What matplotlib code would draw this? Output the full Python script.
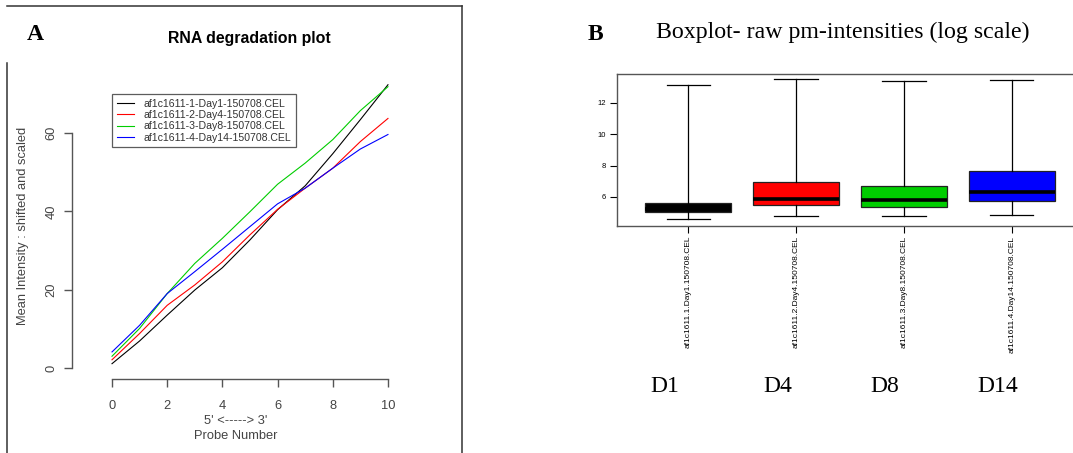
import matplotlib
matplotlib.use("Agg")
from matplotlib import pyplot as plt
from matplotlib.lines import Line2D
import numpy as np

# RNA degradation curves (panel A)
probe_number = np.arange(0, 11)
deg_labels = [
    "af1c1611-1-Day1-150708.CEL",
    "af1c1611-2-Day4-150708.CEL",
    "af1c1611-3-Day8-150708.CEL",
    "af1c1611-4-Day14-150708.CEL",
]
deg_day1 = [1.1, 6.9, 13.5, 19.9, 25.6, 32.7, 40.4, 46.5, 54.7, 63.4, 72.3]
deg_day4 = [2.1, 8.8, 16.0, 21.2, 27.1, 34.0, 40.5, 45.9, 51.0, 57.8, 63.7]
deg_day8 = [3.0, 10.1, 19.0, 26.7, 33.1, 39.9, 46.9, 52.3, 58.3, 65.7, 71.8]
deg_day14 = [4.1, 10.9, 19.0, 24.6, 30.3, 36.1, 41.9, 45.9, 51.0, 55.9, 59.6]
line_colors = ["#000000", "#FF0000", "#00CD00", "#0000FF"]

# boxplot of raw pm intensities (panel B)
box_names = [
    "af1c1611.1.Day1.150708.CEL",
    "af1c1611.2.Day4.150708.CEL",
    "af1c1611.3.Day8.150708.CEL",
    "af1c1611.4.Day14.150708.CEL",
]
day_labels = ["D1", "D4", "D8", "D14"]
whisker_low = [4.58, 4.79, 4.79, 4.85]
box_q1 = [5.03, 5.47, 5.38, 5.75]
box_median = [5.25, 5.87, 5.81, 6.32]
box_q3 = [5.60, 6.94, 6.72, 7.68]
whisker_high = [13.13, 13.50, 13.39, 13.43]
box_colors = ["#000000", "#FF0000", "#00CD00", "#0000FF"]

W, H = 1073, 453
SANS = "Liberation Sans"
SERIF = "Liberation Serif"
AXGRAY = "#555555"
FS = 9.3


def fig_box(left, top, right, bottom):
    return [left / W, 1 - bottom / H, (right - left) / W, (bottom - top) / H]


fig = plt.figure(figsize=(W / 100, H / 100), dpi=100)

# frame around panel A
for xs, ys in [([6.7, 461.7], [6, 6]), ([6.7, 6.7], [63, 453]), ([461.7, 461.7], [6, 453])]:
    fig.add_artist(Line2D([x / W for x in xs], [1 - y / H for y in ys],
                          color="#333333", linewidth=1.1))

# ---- panel A ----
ax = fig.add_axes(fig_box(72, 73, 399, 379))
for vals, lab, col in zip([deg_day1, deg_day4, deg_day8, deg_day14], deg_labels, line_colors):
    ax.plot(probe_number, vals, color=col, linewidth=0.8, label=lab)
ax.set_xlim(-1.45, 10.4)
ax.set_ylim(-2.81, 75.3)
for s in ["top", "right"]:
    ax.spines[s].set_visible(False)
ax.spines["left"].set_bounds(0, 60)
ax.spines["bottom"].set_bounds(0, 10)
for s in ["left", "bottom"]:
    ax.spines[s].set_color(AXGRAY)
    ax.spines[s].set_linewidth(1.0)
ax.set_xticks([0, 2, 4, 6, 8, 10])
ax.set_yticks([0, 20, 40, 60])
ax.tick_params(axis="both", length=6, width=1.0, color=AXGRAY, labelcolor="#444444",
               labelsize=FS)
ax.tick_params(axis="x", pad=9)
ax.tick_params(axis="y", pad=4.5)
for t in ax.get_yticklabels():
    t.set_rotation(90)
    t.set_va("center")
for t in ax.get_xticklabels() + ax.get_yticklabels():
    t.set_fontfamily(SANS)
ax.set_xlabel("5' <-----> 3'\nProbe Number", fontfamily=SANS, fontsize=FS,
              color="#444444", labelpad=2, linespacing=1.35)
ax.set_ylabel("Mean Intensity : shifted and scaled", fontfamily=SANS, fontsize=FS,
              color="#444444", labelpad=12)
leg = ax.legend(loc="upper left", bbox_to_anchor=((112 - 72) / 327, (379 - 94) / 306),
                prop={"family": SANS, "size": 7.6}, frameon=True, fancybox=False,
                handlelength=1.6, handletextpad=0.9, labelspacing=0.12,
                borderpad=0.45, borderaxespad=0)
leg.get_frame().set_edgecolor("#333333")
leg.get_frame().set_linewidth(0.9)
for t in leg.get_texts():
    t.set_color("#333333")

fig.text(249 / W, 1 - 39 / H, "RNA degradation plot", fontfamily=SANS,
         fontweight="bold", fontsize=11.4, ha="center", va="center")
fig.text(35 / W, 1 - 34 / H, "A", fontfamily=SERIF, fontweight="bold",
         fontsize=17, ha="center", va="center")

# ---- panel B ----
bx = fig.add_axes(fig_box(617, 74, 1083, 226))
stats = []
for i in range(len(box_names)):
    stats.append({"whislo": whisker_low[i], "q1": box_q1[i], "med": box_median[i],
                  "q3": box_q3[i], "whishi": whisker_high[i], "fliers": []})
bp = bx.bxp(stats, positions=range(1, 5), widths=0.8, capwidths=0.4,
            showfliers=False, patch_artist=True,
            boxprops={"edgecolor": "#222222", "linewidth": 0.9},
            medianprops={"color": "black", "linewidth": 2.6},
            whiskerprops={"color": "black", "linewidth": 0.9},
            capprops={"color": "black", "linewidth": 0.9})
for patch, col in zip(bp["boxes"], box_colors):
    patch.set_facecolor(col)
bx.set_xlim(0.34, 4.66)
bx.set_ylim(4.15, 13.83)
bx.set_yticks([6, 8, 10, 12])
bx.set_xticks(range(1, 5))
bx.set_xticklabels(box_names, rotation=90, va="top", ha="center")
bx.tick_params(axis="y", labelsize=5.5, length=5, width=0.8, pad=3)
bx.tick_params(axis="x", labelsize=6.0, length=5, width=0.8, pad=2)
for t in bx.get_xticklabels() + bx.get_yticklabels():
    t.set_fontfamily(SANS)
for s in bx.spines.values():
    s.set_color("#555555")
    s.set_linewidth(1.0)

fig.text(843 / W, 1 - 32 / H, "Boxplot- raw pm-intensities (log scale)",
         fontfamily=SERIF, fontsize=17.2, ha="center", va="center")
fig.text(595 / W, 1 - 34 / H, "B", fontfamily=SERIF, fontweight="bold",
         fontsize=17, ha="center", va="center")
for x, lab in zip([665, 778, 885, 998], day_labels):
    fig.text(x / W, 1 - 387 / H, lab, fontfamily=SERIF, fontsize=17,
             ha="center", va="center")

fig.savefig("out.png", dpi=100)
